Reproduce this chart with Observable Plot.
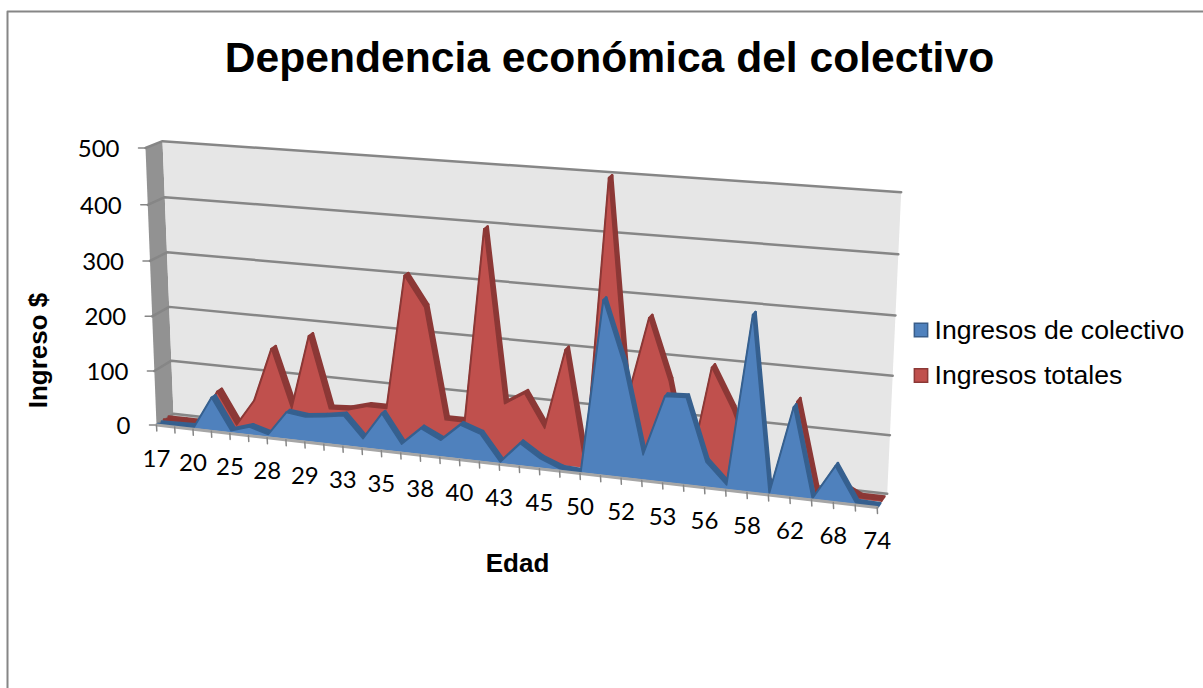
<!DOCTYPE html>
<html lang="es">
<head>
<meta charset="utf-8">
<title>Dependencia económica del colectivo</title>
<script src="https://cdn.jsdelivr.net/npm/d3@7"></script>
<script src="https://cdn.jsdelivr.net/npm/@observablehq/plot@0.6"></script>
<style>
  html, body { margin: 0; padding: 0; background: #fff; }
  svg { display: block; }
</style>
</head>
<body>
<div id="chart"></div>
<script>
// Income by age, one value per position along the depth-projected axis.
const colectivo = [0, 1, 2, 60, 3, 14, 4, 48, 44, 48, 54, 16, 65, 14, 46, 29, 60, 48, 2, 39, 16, 2, 0, 302, 197, 43, 148, 150, 43, 7, 300, 0, 152, 0, 60, 1, 0];
const totales = [1, 1, 1, 64, 6, 55, 153, 48, 183, 55, 57, 67, 67, 306, 254, 58, 58, 398, 98, 120, 62, 203, 2, 500, 125, 271, 167, 5, 197, 130, 40, 0, 154, 2, 20, 2, 2];
// Every second position carries an age label.
const edades = [17, 20, 25, 28, 29, 33, 35, 38, 40, 43, 45, 50, 52, 53, 56, 58, 62, 68, 74];
const ingresoTicks = [0, 100, 200, 300, 400, 500];

const lastIndex = colectivo.length - 1;
const maxValue = 500;

// Corners of the chart box seen in perspective: [x, y] on the page.
const backBox = {bl: [173, 413.3], br: [886.7, 493.3], tr: [900.7, 191.7], tl: [162, 140.7]};
const frontBox = {bl: [156, 424.5], br: [876.7, 507], tr: [890.4, 203.5], tl: [145, 147.5]};

// Depth positions (0 = front of the floor, 1 = back wall) of each series slab.
const blueDepth = [0.08, 0.32];
const redDepth = [0.44, 0.72];

// Unit-square to quadrilateral homography.
function quadMap(p00, p10, p11, p01) {
  const [x0, y0] = p00, [x1, y1] = p10, [x2, y2] = p11, [x3, y3] = p01;
  const dx1 = x1 - x2, dx2 = x3 - x2, sx = x0 - x1 + x2 - x3;
  const dy1 = y1 - y2, dy2 = y3 - y2, sy = y0 - y1 + y2 - y3;
  const den = dx1 * dy2 - dx2 * dy1;
  const g = (sx * dy2 - dx2 * sy) / den, h = (dx1 * sy - sx * dy1) / den;
  const a = x1 - x0 + g * x1, b = x3 - x0 + h * x3, c = x0;
  const d = y1 - y0 + g * y1, e = y3 - y0 + h * y3, f = y0;
  return (u, v) => {
    const w = g * u + h * v + 1;
    return [(a * u + b * v + c) / w, (d * u + e * v + f) / w];
  };
}

const mix = (a, b, t) => [a[0] + (b[0] - a[0]) * t, a[1] + (b[1] - a[1]) * t];
const planes = new Map();
function plane(depth) {
  if (!planes.has(depth)) {
    planes.set(depth, quadMap(
      mix(frontBox.bl, backBox.bl, depth), mix(frontBox.br, backBox.br, depth),
      mix(frontBox.tr, backBox.tr, depth), mix(frontBox.tl, backBox.tl, depth)));
  }
  return planes.get(depth);
}
// Position on the page for a category index, an income and a depth.
const project = (index, value, depth) => plane(depth)(index / lastIndex, value / maxValue);

// Builders for closed outlines, tagged with an id so one mark can draw many.
const outline = (id, pts) => pts.map(([x, y]) => ({id, x, y}));

function faceOutline(values, depth) {
  const top = values.map((v, i) => project(i, v, depth));
  return outline("face", [project(0, 0, depth), ...top, project(lastIndex, 0, depth)]);
}
function slabOutlines(values, [d0, d1]) {
  return d3.pairs(values.map((v, i) => [i, v])).flatMap(([[i, a], [j, b]]) =>
    outline(`s${i}`, [project(i, a, d0), project(j, b, d0), project(j, b, d1), project(i, a, d1)]));
}

const wallOutline = outline("wall", [[0, 0], [lastIndex, 0], [lastIndex, maxValue], [0, maxValue]].map(([i, v]) => project(i, v, 1)));
const sideOutline = outline("side", [project(0, 0, 0), project(0, maxValue, 0), project(0, maxValue, 1), project(0, 0, 1)]);
const floorOutline = outline("floor", [project(0, 0, 0), project(lastIndex, 0, 0), project(lastIndex, 0, 1), project(0, 0, 1)]);

// Gridlines run along the back wall and forward across the side wall.
const gridLines = ingresoTicks.flatMap((v) =>
  outline(`g${v}`, [project(0, v, 0), project(0, v, 1), project(lastIndex, v, 1)]));
const yTickMarks = ingresoTicks.flatMap((v) => {
  const [x, y] = project(0, v, 0);
  return outline(`t${v}`, [[x - 7, y], [x, y]]);
});
const xTickMarks = colectivo.flatMap((_, i) => {
  const [x, y] = project(i, 0, 0);
  return outline(`x${i}`, [[x, y], [x + 0.3, y + 6]]);
});
const frontEdge = outline("edge", [project(0, 0, 0), project(lastIndex, 0, 0)]);

const yLabels = ingresoTicks.map((v) => {
  const [x, y] = project(0, v, 0);
  return {text: String(v), x: x - 26, y: y + 1};
});
const xLabels = edades.map((age, k) => {
  const [x, y] = project(k * 2, 0, 0);
  return {text: String(age), x, y: y + 34};
});

const lineXY = {x: "x", y: "y", z: "id"};
const sansText = "Liberation Sans, Arial, sans-serif";
const tickFont = "Lato, sans-serif";

const chart = Plot.plot({
  width: 1203,
  height: 688,
  margin: 0,
  x: {domain: [0, 1203], range: [0, 1203], axis: null},
  y: {domain: [0, 688], range: [0, 688], axis: null},
  style: {background: "#fff"},
  marks: [
    // Chart frame: its top and left edges fall inside the page
    Plot.line(outline("frame", [[7, 688], [7, 11], [1203, 11]]), {...lineXY, stroke: "#868686", strokeWidth: 2}),
    // Box: floor, side wall, back wall
    Plot.line(floorOutline, {...lineXY, fill: "#c4c4c4", stroke: "none"}),
    Plot.line(sideOutline, {...lineXY, fill: "#929292", stroke: "none"}),
    Plot.line(wallOutline, {...lineXY, fill: "#e6e6e6", stroke: "none"}),
    Plot.line(gridLines, {...lineXY, stroke: "#868686", strokeWidth: 2.5}),
    Plot.line(yTickMarks, {...lineXY, stroke: "#868686", strokeWidth: 1.5}),
    // Total income slab, behind the collective income slab
    Plot.line(slabOutlines(totales, redDepth), {...lineXY, fill: "#8c3836", stroke: "#8c3836", strokeWidth: 2.5}),
    Plot.line(faceOutline(totales, redDepth[0]), {...lineXY, fill: "#c0504d", stroke: "#8c3836", strokeWidth: 1.5}),
    // Collective income slab
    Plot.line(slabOutlines(colectivo, blueDepth), {...lineXY, fill: "#36608f", stroke: "#36608f", strokeWidth: 2.5}),
    Plot.line(faceOutline(colectivo, blueDepth[0]), {...lineXY, fill: "#4f81bd", stroke: "#36608f", strokeWidth: 1.5}),
    // Front edge of the floor with its ticks
    Plot.line(frontEdge, {...lineXY, stroke: "#a6a6a6", strokeWidth: 3}),
    Plot.line(xTickMarks, {...lineXY, stroke: "#868686", strokeWidth: 1.5}),
    // Tick labels
    Plot.text(yLabels, {x: "x", y: "y", text: "text", textAnchor: "end", fontFamily: tickFont, fontSize: 24, fill: "#000"}),
    Plot.text(xLabels, {x: "x", y: "y", text: "text", fontFamily: tickFont, fontSize: 24, fill: "#000"}),
    // Titles
    Plot.text(["Dependencia económica del colectivo"], {x: () => 609, y: () => 58, text: (d) => d, fontFamily: sansText, fontWeight: "bold", fontSize: 42.6, fill: "#000"}),
    Plot.text(["Edad"], {x: () => 517, y: () => 563, text: (d) => d, fontFamily: sansText, fontWeight: "bold", fontSize: 26, fill: "#000"}),
    Plot.text(["Ingreso $"], {x: () => 38, y: () => 350, text: (d) => d, rotate: -90, fontFamily: sansText, fontWeight: "bold", fontSize: 26, fill: "#000"}),
    // Legend
    Plot.dot([{x: 920.5, y: 329.5, c: "#4f81bd", s: "#385d8a"}, {x: 920.5, y: 375, c: "#c0504d", s: "#8c3836"}], {x: "x", y: "y", symbol: "square", r: 7.5, fill: "c", stroke: "s", strokeWidth: 1.5}),
    Plot.text([{t: "Ingresos de colectivo", x: 934, y: 330}, {t: "Ingresos totales", x: 934, y: 375}], {x: "x", y: "y", text: "t", textAnchor: "start", fontFamily: sansText, fontSize: 26.6, fill: "#000"})
  ]
});
document.getElementById("chart").append(chart);
</script>
</body>
</html>
